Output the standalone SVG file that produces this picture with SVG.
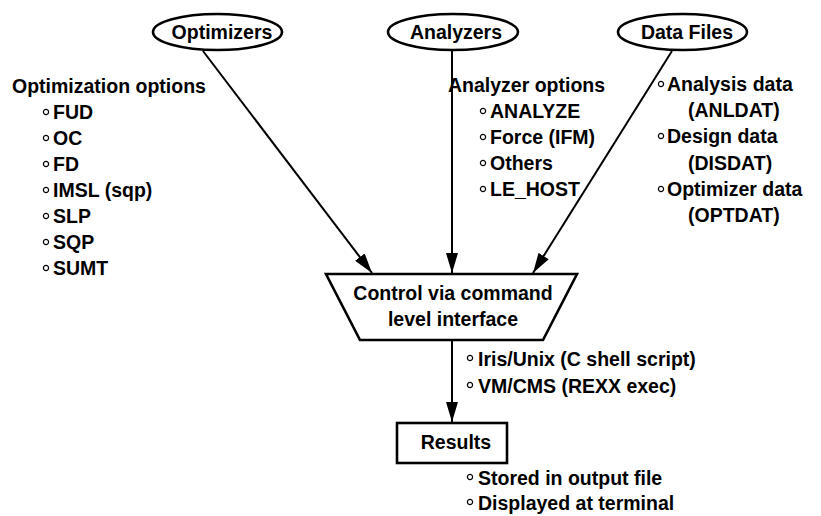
<svg xmlns="http://www.w3.org/2000/svg" xmlns:xlink="http://www.w3.org/1999/xlink" width="821" height="516" viewBox="0 0 821 516">
<style>
text{font-family:"Liberation Sans",Arial,Helvetica,sans-serif;font-weight:bold;font-size:19.5px;fill:#000}
.c{text-anchor:middle}
.shape{fill:#fff;stroke:#000;stroke-width:2.6}
.edge{fill:none;stroke:#000;stroke-width:2}
</style>
<defs>
<marker id="ah" viewBox="0 0 20 12" refX="20" refY="6" markerWidth="20" markerHeight="12" markerUnits="userSpaceOnUse" orient="auto">
<path d="M0,0 L20,6 L0,12 Z" fill="#000"/>
</marker>
<circle id="b" r="2.6" fill="none" stroke="#000" stroke-width="1.2"/>
</defs>
<rect width="821" height="516" fill="#fff"/>
<g id="connectors">
<line class="edge" x1="203" y1="51" x2="372" y2="273" marker-end="url(#ah)"/>
<line class="edge" x1="452" y1="50" x2="452" y2="273" marker-end="url(#ah)"/>
<line class="edge" x1="672" y1="51" x2="533" y2="273" marker-end="url(#ah)"/>
<line class="edge" x1="452" y1="340" x2="452" y2="422" marker-end="url(#ah)"/>
</g>
<g id="optimizers">
<ellipse class="shape" cx="217.5" cy="32" rx="64.5" ry="18"/>
<text class="c" x="222" y="39">Optimizers</text>
</g>
<g id="analyzers">
<ellipse class="shape" cx="453" cy="32" rx="65" ry="18"/>
<text class="c" x="456" y="39">Analyzers</text>
</g>
<g id="datafiles">
<ellipse class="shape" cx="682.5" cy="32" rx="64.5" ry="18"/>
<text class="c" x="687" y="39">Data Files</text>
</g>
<g id="control">
<polygon class="shape" points="326,274 577,274 543,340 360,340"/>
<text class="c" x="453" y="300">Control via command</text>
<text class="c" x="453" y="326">level interface</text>
</g>
<g id="results">
<rect class="shape" x="397" y="423" width="110" height="40"/>
<text class="c" x="456" y="449">Results</text>
</g>
<g id="optimizer-options">
<text x="12" y="93">Optimization options</text>
<use xlink:href="#b" x="46" y="112"/><text x="53" y="119">FUD</text>
<use xlink:href="#b" x="46" y="138"/><text x="53" y="145">OC</text>
<use xlink:href="#b" x="46" y="164"/><text x="53" y="171">FD</text>
<use xlink:href="#b" x="46" y="190"/><text x="53" y="197">IMSL (sqp)</text>
<use xlink:href="#b" x="46" y="216"/><text x="53" y="223">SLP</text>
<use xlink:href="#b" x="46" y="242"/><text x="53" y="249">SQP</text>
<use xlink:href="#b" x="46" y="268"/><text x="53" y="275">SUMT</text>
</g>
<g id="analyzer-options">
<text x="448" y="92">Analyzer options</text>
<use xlink:href="#b" x="483" y="111"/><text x="490" y="118">ANALYZE</text>
<use xlink:href="#b" x="483" y="137"/><text x="490" y="144">Force (IFM)</text>
<use xlink:href="#b" x="483" y="163"/><text x="490" y="170">Others</text>
<use xlink:href="#b" x="483" y="189"/><text x="490" y="196">LE_HOST</text>
</g>
<g id="data-options">
<use xlink:href="#b" x="661" y="84"/><text x="667" y="91">Analysis data</text>
<text x="688" y="117">(ANLDAT)</text>
<use xlink:href="#b" x="661" y="136"/><text x="667" y="143">Design data</text>
<text x="688" y="170">(DISDAT)</text>
<use xlink:href="#b" x="661" y="189"/><text x="667" y="196">Optimizer data</text>
<text x="688" y="222">(OPTDAT)</text>
</g>
<g id="platform-options">
<use xlink:href="#b" x="470" y="358"/><text x="478" y="366">Iris/Unix (C shell script)</text>
<use xlink:href="#b" x="470" y="385"/><text x="478" y="393">VM/CMS (REXX exec)</text>
</g>
<g id="output-options">
<use xlink:href="#b" x="470" y="477"/><text x="478" y="485">Stored in output file</text>
<use xlink:href="#b" x="470" y="502"/><text x="478" y="510">Displayed at terminal</text>
</g>
</svg>
